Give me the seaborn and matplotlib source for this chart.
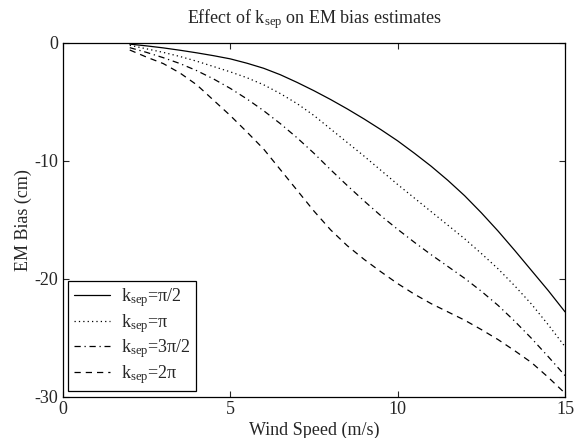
import numpy as np
import pandas as pd
import seaborn as sns
import matplotlib
matplotlib.use('Agg')
import matplotlib.pyplot as plt

# wind speed (m/s), half-step grid from 2 to 15
wind = [2.0, 2.5, 3.0, 3.5, 4.0, 4.5, 5.0, 5.5, 6.0, 6.5, 7.0, 7.5, 8.0,
        8.5, 9.0, 9.5, 10.0, 10.5, 11.0, 11.5, 12.0, 12.5, 13.0, 13.5,
        14.0, 14.5, 15.0]

# EM bias (cm) for each k_sep
bias_half_pi = [-0.1, -0.25, -0.42, -0.62, -0.84, -1.08, -1.35, -1.72, -2.15,
                -2.7, -3.35, -4.05, -4.8, -5.6, -6.45, -7.35, -8.3, -9.35,
                -10.45, -11.65, -12.95, -14.4, -15.95, -17.6, -19.3, -21.0,
                -22.8]
bias_pi = [-0.2, -0.5, -0.8, -1.15, -1.55, -2.0, -2.45, -2.95, -3.55, -4.3,
           -5.15, -6.15, -7.3, -8.45, -9.6, -10.8, -12.0, -13.15, -14.3,
           -15.45, -16.6, -17.85, -19.15, -20.6, -22.15, -23.9, -25.75]
bias_3half_pi = [-0.4, -0.8, -1.25, -1.75, -2.35, -3.05, -3.85, -4.75, -5.75,
                 -6.85, -8.05, -9.35, -10.75, -12.1, -13.4, -14.65, -15.8,
                 -16.9, -17.95, -18.95, -19.95, -21.05, -22.25, -23.6, -25.05,
                 -26.6, -28.2]
bias_2pi = [-0.6, -1.2, -1.75, -2.55, -3.55, -4.85, -6.15, -7.55, -9.0,
            -10.75, -12.5, -14.25, -15.85, -17.2, -18.35, -19.4, -20.4,
            -21.3, -22.1, -22.8, -23.5, -24.3, -25.15, -26.1, -27.1, -28.35,
            -29.7]

labels = ['k$_{\\mathrm{sep}}$=π/2', 'k$_{\\mathrm{sep}}$=π',
          'k$_{\\mathrm{sep}}$=3π/2', 'k$_{\\mathrm{sep}}$=2π']
series = [bias_half_pi, bias_pi, bias_3half_pi, bias_2pi]
styles = ['-', (0, (1, 2.5)), (0, (5, 3, 1, 3)), (0, (5, 4))]

sns.set_style('ticks')
plt.rcParams['font.family'] = ['Liberation Serif', 'DejaVu Serif']
plt.rcParams['mathtext.fontset'] = 'custom'
plt.rcParams['mathtext.rm'] = 'Liberation Serif'
plt.rcParams['mathtext.it'] = 'Liberation Serif:italic'
plt.rcParams['axes.unicode_minus'] = False

fig = plt.figure(figsize=(5.76, 4.38), dpi=100)
ax = fig.add_axes([0.109, 0.094, 0.872, 0.808])

for vals, lab, ls in zip(series, labels, styles):
    sns.lineplot(x=wind, y=vals, ax=ax, color='black', linestyle=ls,
                 linewidth=0.9, label=lab)

ax.set_xlim(0, 15)
ax.set_ylim(-30, 0)
ax.set_xticks([0, 5, 10, 15])
ax.set_yticks([0, -10, -20, -30])
ax.tick_params(direction='in', top=True, right=True, length=4,
               width=0.8, labelsize=13, pad=3)
for sp in ax.spines.values():
    sp.set_linewidth(0.9)
    sp.set_color('black')

ax.set_xlabel('Wind Speed (m/s)', fontsize=13, labelpad=3)
ax.set_ylabel('EM Bias (cm)', fontsize=13, labelpad=2)
ax.set_title('Effect of k$_{\\mathrm{sep}}$ on EM bias estimates',
             fontsize=13, pad=14)

leg = ax.legend(loc='lower left', fontsize=13, frameon=True, fancybox=False,
                edgecolor='black', framealpha=1, handlelength=2.0,
                borderaxespad=0.3, labelspacing=0.15, handletextpad=0.6,
                borderpad=0.3)
leg.get_frame().set_linewidth(0.9)

fig.savefig('out.png', dpi=100)
